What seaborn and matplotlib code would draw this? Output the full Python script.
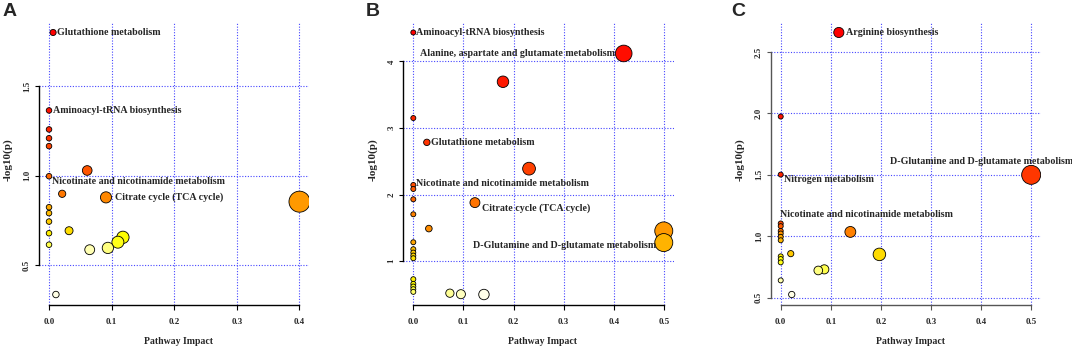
import colorsys
import numpy as np
import pandas as pd
import matplotlib
matplotlib.use("Agg")
import matplotlib.pyplot as plt
import seaborn as sns

# ---- data (pathway impact, -log10(p)) ----
a_impact = [0.0065, 0.0, 0.0, 0.0, 0.0, 0.061, 0.0, 0.021, 0.091, 0.40, 0.0,
            0.0, 0.0, 0.032, 0.0, 0.118, 0.110, 0.0, 0.094, 0.065, 0.011]
a_logp = [1.80, 1.365, 1.259, 1.21, 1.166, 1.03, 0.998, 0.90, 0.88, 0.856, 0.825,
          0.792, 0.745, 0.694, 0.68, 0.657, 0.63, 0.616, 0.598, 0.588, 0.338]
a_names = ["Glutathione metabolism", "Aminoacyl-tRNA biosynthesis", "", "", "", "",
           "Nicotinate and nicotinamide metabolism", "", "Citrate cycle (TCA cycle)",
           "", "", "", "", "", "", "", "", "", "", "", ""]

b_impact = [0.0, 0.42, 0.179, 0.0, 0.027, 0.231, 0.0, 0.0, 0.0, 0.123, 0.0, 0.031,
            0.5, 0.0, 0.5, 0.0, 0.0, 0.0, 0.0, 0.0, 0.0, 0.0, 0.0, 0.0, 0.073,
            0.095, 0.141]
b_logp = [4.435, 4.12, 3.695, 3.15, 2.785, 2.39, 2.145, 2.085, 1.93, 1.88, 1.705,
          1.49, 1.455, 1.285, 1.28, 1.18, 1.13, 1.085, 1.045, 0.73, 0.66, 0.62,
          0.58, 0.54, 0.52, 0.505, 0.50]
b_names = ["Aminoacyl-tRNA biosynthesis", "Alanine, aspartate and glutamate metabolism",
           "", "", "Glutathione metabolism", "", "Nicotinate and nicotinamide metabolism",
           "", "", "Citrate cycle (TCA cycle)", "", "", "", "",
           "D-Glutamine and D-glutamate metabolism", "", "", "", "", "", "", "", "",
           "", "", "", ""]

c_impact = [0.116, 0.0, 0.0, 0.5, 0.0, 0.0, 0.0, 0.139, 0.0, 0.0, 0.0, 0.020,
            0.197, 0.0, 0.0, 0.0, 0.087, 0.075, 0.0, 0.022]
c_logp = [2.66, 1.975, 1.502, 1.50, 1.104, 1.082, 1.043, 1.035, 1.022, 0.995,
          0.967, 0.858, 0.852, 0.836, 0.814, 0.787, 0.73, 0.721, 0.64, 0.525]
c_names = ["Arginine biosynthesis", "", "Nitrogen metabolism",
           "D-Glutamine and D-glutamate metabolism",
           "Nicotinate and nicotinamide metabolism", "", "", "", "", "", "", "",
           "", "", "", "", "", "", "", ""]

a_xticks = [0.0, 0.1, 0.2, 0.3, 0.4]
a_yticks = [0.5, 1.0, 1.5]
a_yticklabels = ["0.5", "1.0", "1.5"]
b_xticks = [0.0, 0.1, 0.2, 0.3, 0.4, 0.5]
b_yticks = [1, 2, 3, 4]
b_yticklabels = ["1", "2", "3", "4"]
c_xticks = [0.0, 0.1, 0.2, 0.3, 0.4, 0.5]
c_yticks = [0.5, 1.0, 1.5, 2.0, 2.5]
c_yticklabels = ["0.5", "1.0", "1.5", "2.0", "2.5"]


def heat_colors(n):
    # same as R's heat.colors(n)
    j = n // 4
    i = n - j
    cols = [colorsys.hsv_to_rgb(h, 1, 1) for h in np.linspace(0, 1 / 6, i)]
    if j > 0:
        for s in np.linspace(1 - 1 / (2 * j), 1 / (2 * j), j):
            cols.append(colorsys.hsv_to_rgb(1 / 6, s, 1))
    return cols


sns.set_theme(style="white")
plt.rcParams['font.family'] = ['Liberation Serif', 'DejaVu Serif']

fig = plt.figure(figsize=(10.72, 3.5), dpi=100)

# label offsets in pixels (dx, dy, ha)
offsets = {
    "A": {"Glutathione metabolism": (4, 0, "left"),
          "Aminoacyl-tRNA biosynthesis": (4, 0, "left"),
          "Nicotinate and nicotinamide metabolism": (2.5, -5, "left"),
          "Citrate cycle (TCA cycle)": (9, 0, "left")},
    "B": {"Aminoacyl-tRNA biosynthesis": (3, 0, "left"),
          "Alanine, aspartate and glutamate metabolism": (-9, 0, "right"),
          "Glutathione metabolism": (4.5, 0, "left"),
          "Nicotinate and nicotinamide metabolism": (3, 1.5, "left"),
          "Citrate cycle (TCA cycle)": (7.5, -5.5, "left"),
          "D-Glutamine and D-glutamate metabolism": (-8, -2.5, "right")},
    "C": {"Arginine biosynthesis": (7, 0, "left"),
          "Nitrogen metabolism": (3, -4.5, "left"),
          "D-Glutamine and D-glutamate metabolism": (-50, 13, "center"),
          "Nicotinate and nicotinamide metabolism": (-1, 9, "left")},
}

panels = [
    ("A", a_impact, a_logp, a_names, a_xticks, a_yticks, a_yticklabels, 39, 3, (16, 229), 0.4, "black"),
    ("B", b_impact, b_logp, b_names, b_xticks, b_yticks, b_yticklabels, 403.3, 366, (13, 168), 0.5, "black"),
    ("C", c_impact, c_logp, c_names, c_xticks, c_yticks, c_yticklabels, 770.7, 731, (13, 187), 0.5, "#555555"),
]

W, H = 1072, 350
for tag, imp, lp, names, xt, yt, ytl, left_px, tag_px, sizes, smax, axcol in panels:
    ax = fig.add_axes([left_px / W, 45 / H, 270.5 / W, 283 / H])
    df = pd.DataFrame({"impact": imp, "logp": lp, "name": names})
    df = df.sort_values("logp", ascending=False).reset_index(drop=True)
    df["rank"] = [str(k) for k in range(len(df))]
    cols = heat_colors(len(df))

    # R-style 4% padding
    xr = df["impact"].max() - df["impact"].min()
    yr = df["logp"].max() - df["logp"].min()
    ax.set_xlim(df["impact"].min() - 0.04 * xr, df["impact"].max() + 0.04 * xr)
    ax.set_ylim(df["logp"].min() - 0.04 * yr, df["logp"].max() + 0.04 * yr)

    for v in xt:
        ax.axvline(v, color="#4646ff", lw=0.8, ls=(0, (1, 1.5)), zorder=0)
    for v in yt:
        ax.axhline(v, color="#4646ff", lw=0.8, ls=(0, (1, 1.5)), zorder=0)

    sns.scatterplot(data=df, x="impact", y="logp", hue="rank", palette=cols,
                    size="impact", sizes=sizes, size_norm=(0, smax),
                    edgecolor="black", linewidth=0.6, legend=False, ax=ax, zorder=3)

    for _, r in df.iterrows():
        if r["name"]:
            dx, dy, ha = offsets[tag][r["name"]]
            ax.annotate(r["name"], (r["impact"], r["logp"]),
                        xytext=(dx * 0.72, dy * 0.72), textcoords="offset points",
                        ha=ha, va="center", fontsize=7.2, fontweight="bold",
                        zorder=4, annotation_clip=False)

    for s in ["top", "right"]:
        ax.spines[s].set_visible(False)
    ax.spines["left"].set_bounds(yt[0], yt[-1])
    ax.spines["bottom"].set_bounds(xt[0], xt[-1])
    for s in ["left", "bottom"]:
        ax.spines[s].set_color(axcol)
        ax.spines[s].set_linewidth(1.0)

    ax.set_xticks(xt)
    ax.set_xticklabels([f"{v:.1f}" for v in xt], fontsize=6.4, fontweight="bold")
    ax.set_yticks(yt)
    ax.set_yticklabels(ytl, fontsize=6.4, fontweight="bold", rotation=90, va="center")
    ax.tick_params(axis="x", direction="out", length=3.5, width=0.8, color=axcol,
                   pad=6, bottom=True)
    ax.tick_params(axis="y", direction="out", length=3.2, width=0.8, color=axcol,
                   pad=2.5, left=True)
    ax.grid(False)

    ax.set_xlabel("Pathway Impact", fontsize=7, fontweight="bold", va="center")
    ax.xaxis.set_label_coords(0.516, -37 / 283)
    ax.set_ylabel("-log10(p)", fontsize=8, fontweight="bold", va="center")
    ax.yaxis.set_label_coords(-31 / 270.5, 0.512)

    fig.text(tag_px / W, 1 - 3 / H, tag, ha="left", va="top", fontsize=14,
             fontweight="bold", family=["Liberation Sans", "DejaVu Sans"])

fig.savefig("out.png", dpi=100)
